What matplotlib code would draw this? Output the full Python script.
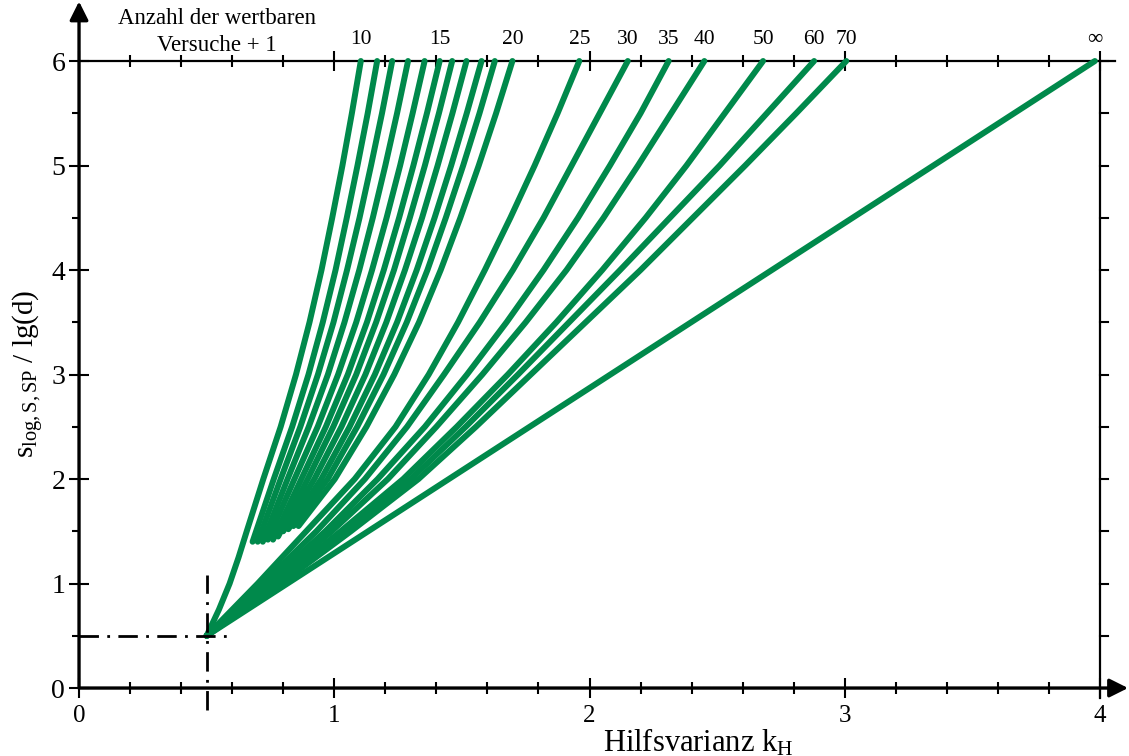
import matplotlib
matplotlib.use("Agg")
import matplotlib.pyplot as plt
import numpy as np

plt.rcParams['font.family'] = ['Liberation Serif', 'DejaVu Serif']
plt.rcParams['mathtext.fontset'] = 'custom'
plt.rcParams['mathtext.rm'] = 'Liberation Serif'
plt.rcParams['mathtext.it'] = 'Liberation Serif:italic'

GREEN = '#00894b'

# curves: number of valid tests + 1 -> points (k_H, s/lg(d))
curve_labels = ['10', '11', '12', '13', '14', '15', '16', '17', '18', '19', '20',
                '25', '30', '35', '40', '50', '60', '70', '\u221e']
label_shown = ['10', '15', '20', '25', '30', '35', '40', '50', '60', '70', '\u221e']

s_10 = [0.5, 0.75, 1.0, 1.25, 1.5, 2.0, 2.5, 3.0, 3.5, 4.0, 4.5, 5.0, 5.5, 6.0]
k_10 = [0.5, 0.548, 0.59, 0.625, 0.657, 0.722, 0.79, 0.85, 0.903, 0.95, 0.992, 1.032, 1.069, 1.104]

s_upper = [2.0, 2.5, 3.0, 3.5, 4.0, 4.5, 5.0, 5.5, 6.0]
s_start = [1.40, 1.40, 1.40, 1.42, 1.42, 1.45, 1.50, 1.52, 1.55, 1.55]
k_start = [0.68, 0.70, 0.72, 0.74, 0.76, 0.78, 0.80, 0.82, 0.84, 0.86]
k_small = [[0.763, 0.835, 0.899, 0.955, 1.005, 1.049, 1.091, 1.131, 1.168],
           [0.790, 0.867, 0.936, 0.997, 1.050, 1.099, 1.144, 1.187, 1.227],
           [0.817, 0.900, 0.975, 1.040, 1.098, 1.151, 1.200, 1.246, 1.289],
           [0.844, 0.935, 1.015, 1.086, 1.148, 1.205, 1.258, 1.307, 1.354],
           [0.871, 0.967, 1.053, 1.128, 1.194, 1.254, 1.310, 1.363, 1.413],
           [0.896, 0.996, 1.086, 1.164, 1.234, 1.296, 1.355, 1.410, 1.462],
           [0.922, 1.028, 1.122, 1.204, 1.277, 1.344, 1.405, 1.463, 1.518],
           [0.949, 1.060, 1.159, 1.246, 1.323, 1.393, 1.458, 1.519, 1.577],
           [0.974, 1.090, 1.193, 1.284, 1.365, 1.437, 1.505, 1.569, 1.629],
           [1.002, 1.126, 1.235, 1.332, 1.417, 1.494, 1.566, 1.634, 1.698]]

s_large = [0.5, 0.75, 1.0, 1.5, 2.0, 2.5, 3.0, 3.5, 4.0, 4.5, 5.0, 5.5, 6.0]
k_large = [[0.5, 0.60, 0.70, 0.89, 1.08, 1.24, 1.37, 1.485, 1.59, 1.69, 1.785, 1.875, 1.96],
           [0.5, 0.61, 0.72, 0.93, 1.12, 1.285, 1.43, 1.57, 1.70, 1.82, 1.93, 2.04, 2.15],
           [0.5, 0.62, 0.74, 0.965, 1.17, 1.355, 1.52, 1.675, 1.82, 1.955, 2.08, 2.20, 2.31],
           [0.5, 0.625, 0.75, 0.99, 1.21, 1.40, 1.58, 1.75, 1.91, 2.055, 2.19, 2.32, 2.45],
           [0.5, 0.635, 0.77, 1.025, 1.27, 1.48, 1.68, 1.87, 2.05, 2.22, 2.38, 2.53, 2.68],
           [0.5, 0.64, 0.78, 1.045, 1.30, 1.515, 1.72, 1.92, 2.12, 2.315, 2.51, 2.695, 2.88],
           [0.5, 0.645, 0.79, 1.065, 1.33, 1.555, 1.77, 1.985, 2.20, 2.405, 2.61, 2.81, 3.006]]

s_inf = [0.5, 6.0]
k_inf = [0.5, 3.98]

fig = plt.figure(figsize=(11.29, 7.56), dpi=100)
ax = fig.add_axes([0.0700, 0.0899, 0.9043, 0.8294])
ax.set_xlim(0, 4)
ax.set_ylim(0, 6)
for sp in ax.spines.values():
    sp.set_visible(False)

line_kw = dict(color=GREEN, lw=4.3, solid_capstyle='round', solid_joinstyle='round',
               clip_on=False, zorder=3)
curves = [(k_10, s_10)]
for k0, s0, k in zip(k_start, s_start, k_small):
    curves.append(([k0] + k, [s0] + s_upper))
curves += [(k, s_large) for k in k_large]
curves += [(k_inf, s_inf)]
for (k, s) in curves:
    ax.plot(k, s, **line_kw)

# labels at the upper end of the curves
for lab, (k, s) in zip(curve_labels, curves):
    if lab in label_shown:
        ax.text(k[-1], 6.21, lab, ha='center', va='center', fontsize=15.5)

ax.text(0.54, 6.41, 'Anzahl der wertbaren', ha='center', va='center', fontsize=16.5)
ax.text(0.54, 6.15, 'Versuche + 1', ha='center', va='center', fontsize=16.5)

# axes lines
ax.plot([0, 4.06], [6, 6], color='k', lw=1.6, clip_on=False, zorder=2)
ax.plot([4, 4], [-0.1, 6], color='k', lw=1.6, clip_on=False, zorder=2)
ax.annotate('', xy=(4.11, 0), xytext=(0, 0), annotation_clip=False,
            arrowprops=dict(arrowstyle='-|>', lw=2.4, color='k', mutation_scale=28,
                            shrinkA=0, shrinkB=0))
ax.annotate('', xy=(0, 6.57), xytext=(0, 0), annotation_clip=False,
            arrowprops=dict(arrowstyle='-|>', lw=2.4, color='k', mutation_scale=28,
                            shrinkA=0, shrinkB=0))

# dash-dot guide lines for the lower limit
ax.plot([0, 0.6], [0.5, 0.5], color='k', lw=2, ls=(0, (7, 3, 1, 3)), clip_on=False, zorder=4)
ax.plot([0.5, 0.5], [-0.21, 1.08], color='k', lw=2, ls=(0, (7, 3, 1, 3)), clip_on=False, zorder=4)

# ticks
ax.set_xticks([0, 1, 2, 3, 4])
ax.set_xticks(np.arange(0, 4.01, 0.2), minor=True)
ax.set_yticks([0, 1, 2, 3, 4, 5, 6])
ax.set_yticks(np.arange(0.5, 6, 1.0), minor=True)
ax.tick_params(axis='x', which='major', direction='inout', length=14, width=1.5,
               top=True, labelsize=18, pad=5)
ax.tick_params(axis='x', which='minor', direction='inout', length=9, width=1.5, top=True)
ax.tick_params(axis='y', which='major', direction='inout', length=14, width=1.5,
               labelsize=20, pad=3)
ax.tick_params(axis='y', which='minor', direction='out', length=5, width=1.5)
for k in np.arange(0.5, 6.01, 0.5):
    ax.plot([4, 4.03], [k, k], color='k', lw=1.5, clip_on=False, zorder=2)

fig.text(698 / 1129, 5 / 756, r'Hilfsvarianz k$_\mathrm{H}$', ha='center', va='baseline',
         fontsize=22)
fig.text(28 / 1129, 1 - 374 / 756, r'$\mathrm{s_{log,S,SP}}$ / lg(d)', ha='center', va='center',
         rotation=90, fontsize=21)

fig.savefig('out.png', dpi=100)
